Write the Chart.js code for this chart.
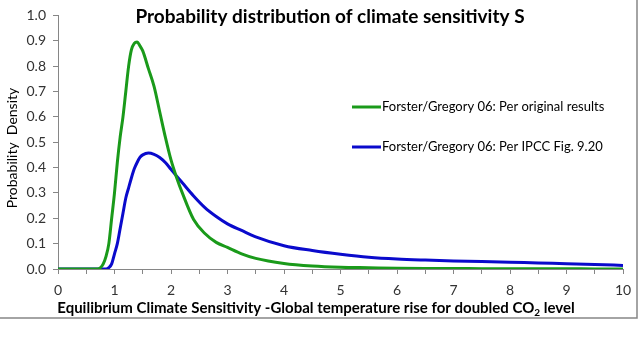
<!DOCTYPE html>
<html>
<head>
<meta charset="utf-8">
<script src="https://cdn.jsdelivr.net/npm/chart.js@4/dist/chart.umd.min.js"></script>
<style>
  html, body { margin: 0; padding: 0; background: #fff; }
  #wrap { width: 640px; height: 342px; }
</style>
</head>
<body>
<div id="wrap"><canvas id="sensitivity-chart" width="640" height="342"></canvas></div>
<script>
// climate sensitivity S (°C) and probability density
const sensibilidade = [0, 0.5, 0.7, 0.8, 0.85, 0.9, 0.95, 1.0, 1.05, 1.1, 1.15, 1.2, 1.25, 1.3, 1.35, 1.4, 1.45, 1.5, 1.6, 1.7, 1.8, 1.9, 2.0, 2.1, 2.2, 2.4, 2.6, 2.8, 3.0, 3.25, 3.5, 4, 4.5, 5, 5.5, 6, 6.5, 7, 7.5, 8, 8.5, 9, 9.5, 10];
const densidadeOriginal = [0, 0, 0, 0.02, 0.05, 0.10, 0.20, 0.30, 0.42, 0.52, 0.60, 0.70, 0.80, 0.865, 0.89, 0.895, 0.88, 0.86, 0.79, 0.72, 0.62, 0.52, 0.43, 0.36, 0.30, 0.195, 0.14, 0.105, 0.085, 0.06, 0.042, 0.022, 0.012, 0.007, 0.005, 0.003, 0.002, 0.002, 0.001, 0.001, 0.001, 0.001, 0, 0];
const densidadeIPCC = [0, 0, 0, 0, 0, 0.005, 0.02, 0.06, 0.10, 0.16, 0.22, 0.28, 0.32, 0.36, 0.395, 0.42, 0.44, 0.45, 0.457, 0.452, 0.44, 0.42, 0.393, 0.366, 0.34, 0.288, 0.242, 0.207, 0.178, 0.152, 0.127, 0.092, 0.073, 0.058, 0.046, 0.039, 0.035, 0.032, 0.03, 0.027, 0.024, 0.021, 0.018, 0.014];

const nomesSeries = ["Forster/Gregory 06: Per original results", "Forster/Gregory 06: Per IPCC Fig. 9.20"];
const coresSeries = ["#1a9a1a", "#0a0acc"];

const titulo = "Probability distribution of climate sensitivity S";
const tituloY = "Probability  Density";
const tituloX = ["Equilibrium Climate Sensitivity -Global temperature rise for doubled CO", "2", " level"];

const FONTE = "Lato, 'Open Sans', sans-serif";
const CINZA = "#868686";

function pontos(ys) {
  return sensibilidade.map((x, i) => ({ x: x, y: ys[i] }));
}

// title, legend, x title with subscript, and outer frame
const extras = {
  id: "extras",
  beforeDraw(chart) {
    const c = chart.ctx;
    c.save();
    c.strokeStyle = CINZA;
    c.lineWidth = 1.5;
    c.beginPath();
    c.moveTo(637, 0);
    c.lineTo(637, 318);
    c.lineTo(0, 318);
    c.stroke();
    c.restore();
  },
  afterDraw(chart) {
    const c = chart.ctx;
    c.save();
    c.fillStyle = "#000";
    c.textBaseline = "alphabetic";

    c.font = "bold 19px " + FONTE;
    c.textAlign = "center";
    c.fillText(titulo, 330, 23);

    // legend
    c.font = "13px " + FONTE;
    c.textAlign = "left";
    const ys = [107, 147];
    nomesSeries.forEach((nome, i) => {
      c.strokeStyle = coresSeries[i];
      c.lineWidth = 3;
      c.beginPath();
      c.moveTo(352, ys[i]);
      c.lineTo(381, ys[i]);
      c.stroke();
      c.fillText(nome, 382, ys[i] + 4);
    });

    // x axis title
    c.font = "bold 15px " + FONTE;
    const w0 = c.measureText(tituloX[0]).width;
    const w2 = c.measureText(tituloX[2]).width;
    c.font = "bold 10px " + FONTE;
    const w1 = c.measureText(tituloX[1]).width;
    let x = 316 - (w0 + w1 + w2) / 2;
    c.font = "bold 15px " + FONTE;
    c.fillText(tituloX[0], x, 313);
    x += w0;
    c.font = "bold 10px " + FONTE;
    c.fillText(tituloX[1], x, 316);
    x += w1;
    c.font = "bold 15px " + FONTE;
    c.fillText(tituloX[2], x, 313);

    // y axis title
    c.font = "14px " + FONTE;
    c.translate(12, 148);
    c.rotate(-Math.PI / 2);
    c.textAlign = "center";
    c.textBaseline = "middle";
    c.fillText(tituloY, 0, 0);
    c.restore();
  }
};

new Chart(document.getElementById("sensitivity-chart"), {
  type: "line",
  data: {
    datasets: [
      {
        label: nomesSeries[0],
        data: pontos(densidadeOriginal),
        borderColor: coresSeries[0],
        borderWidth: 3,
        pointRadius: 0,
        cubicInterpolationMode: "monotone",
      },
      {
        label: nomesSeries[1],
        data: pontos(densidadeIPCC),
        borderColor: coresSeries[1],
        borderWidth: 3,
        pointRadius: 0,
        cubicInterpolationMode: "monotone",
      },
    ],
  },
  options: {
    responsive: false,
    animation: false,
    layout: { padding: { top: 13, right: 17, left: 0, bottom: 0 } },
    plugins: { legend: { display: false }, tooltip: { enabled: false } },
    scales: {
      x: {
        type: "linear",
        min: 0,
        max: 10,
        afterFit(s) { s.height = 73; },
        border: { color: CINZA, width: 1 },
        grid: { drawOnChartArea: false, color: CINZA, tickLength: 5 },
        ticks: {
          stepSize: 0.5,
          autoSkip: false,
          maxRotation: 0,
          padding: 8,
          color: "#333",
          font: { family: FONTE, size: 14 },
          callback: (v) => (Number.isInteger(v) ? v : ""),
        },
      },
      y: {
        min: 0,
        max: 1,
        afterFit(s) { s.width = 58; },
        border: { color: CINZA, width: 1 },
        grid: { drawOnChartArea: false, color: CINZA, tickLength: 5 },
        ticks: {
          stepSize: 0.1,
          padding: 7,
          color: "#333",
          font: { family: FONTE, size: 14 },
          callback: (v) => v.toFixed(1),
        },
      },
    },
  },
  plugins: [extras],
});
</script>
</body>
</html>
